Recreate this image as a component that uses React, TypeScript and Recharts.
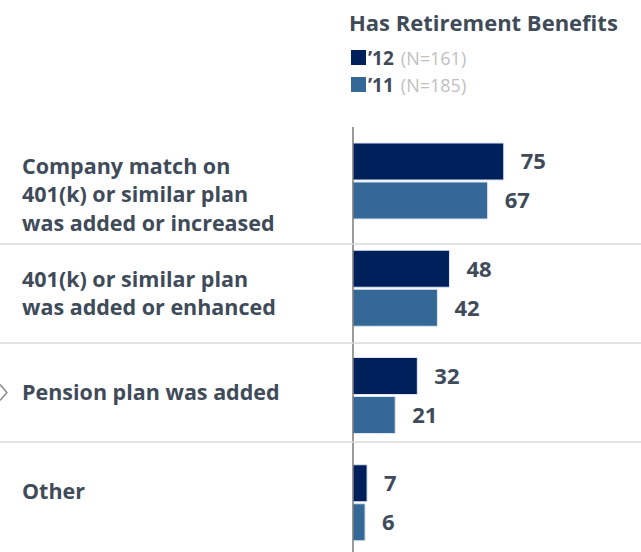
import { Bar, BarChart, LabelList, XAxis, YAxis } from "recharts";

const categories = [
  "Company match on\n401(k) or similar plan\nwas added or increased",
  "401(k) or similar plan\nwas added or enhanced",
  "Pension plan was added",
  "Other",
];
const values2012 = [75, 48, 32, 7];
const values2011 = [67, 42, 21, 6];
const seriesNames = ["’12", "’11"];
const seriesCounts = ["(N=161)", "(N=185)"];
const legendTitle = "Has Retirement Benefits";

const data = categories.map((name, i) => ({
  name,
  y12: values2012[i],
  y11: values2011[i],
}));

const colors = ["#00205c", "#346897"];
const textColor = "#404b5a";
const font = "'Open Sans', sans-serif";

// label rows on the left sit on their own grid, not on the bar bands
const ROW_TOP = 145;
const ROW_H = 99;

function CategoryTick(props: any) {
  const { payload, index } = props;
  const lines = String(payload.value).split("\n");
  const rowMid = ROW_TOP + ROW_H * index + ROW_H / 2;
  const lineH = 28.5;
  const firstY = rowMid - ((lines.length - 1) * lineH) / 2;
  return (
    <g>
      {index < categories.length - 1 && (
        <line x1={0} x2={641} y1={ROW_TOP + ROW_H * (index + 1)} y2={ROW_TOP + ROW_H * (index + 1)} stroke="#d9d9d9" strokeWidth={1.5} />
      )}
      {index === 2 && (
        <polyline points={`0,${rowMid - 8} 7,${rowMid} 0,${rowMid + 8}`} fill="none" stroke="#8c8c8c" strokeWidth={1.5} />
      )}
      {lines.map((l, i) => (
        <text key={i} x={22} y={firstY + i * lineH} dy="0.36em" fill={textColor} fontFamily={font} fontWeight={700} fontSize={21.5}>
          {l}
        </text>
      ))}
    </g>
  );
}

function LegendBox() {
  return (
    <div style={{ position: "absolute", top: 0, left: 349, fontFamily: font, color: textColor }}>
      <div style={{ fontWeight: 700, fontSize: 22, lineHeight: "26px", marginTop: 9 }}>{legendTitle}</div>
      {seriesNames.map((s, i) => (
        <div key={s} style={{ display: "flex", alignItems: "center", height: 27, marginTop: i === 0 ? 9 : 0 }}>
          <span style={{ width: 15, height: 15, background: colors[i], display: "inline-block", marginLeft: 2, marginRight: 2 }} />
          <span style={{ fontWeight: 700, fontSize: 19 }}>{s}</span>
          <span style={{ fontSize: 18, color: "#bfbfbf", marginLeft: 7 }}>{seriesCounts[i]}</span>
        </div>
      ))}
    </div>
  );
}

export default function App() {
  return (
    <div style={{ position: "absolute", left: 0, top: 0, width: 641, height: 552, overflow: "hidden", background: "#fff" }}>
      <BarChart
        width={641}
        height={560}
        data={data}
        layout="vertical"
        margin={{ top: 127, right: 87, bottom: 4, left: 0 }}
        barSize={37}
        barGap={2}
      >
        <XAxis type="number" domain={[0, 100]} hide />
        <YAxis
          type="category"
          dataKey="name"
          width={353}
          axisLine={{ stroke: "#595959", strokeWidth: 1.2 }}
          tickLine={false}
          tick={<CategoryTick />}
          interval={0}
        />
        <Bar dataKey="y12" fill={colors[0]} stroke="#dfe6f0" strokeWidth={1} isAnimationActive={false}>
          <LabelList dataKey="y12" position="right" offset={17} fill={textColor} fontFamily={font} fontWeight={700} fontSize={22} />
        </Bar>
        <Bar dataKey="y11" fill={colors[1]} stroke="#dfe6f0" strokeWidth={1} isAnimationActive={false}>
          <LabelList dataKey="y11" position="right" offset={17} fill={textColor} fontFamily={font} fontWeight={700} fontSize={22} />
        </Bar>
      </BarChart>
      <LegendBox />
    </div>
  );
}
